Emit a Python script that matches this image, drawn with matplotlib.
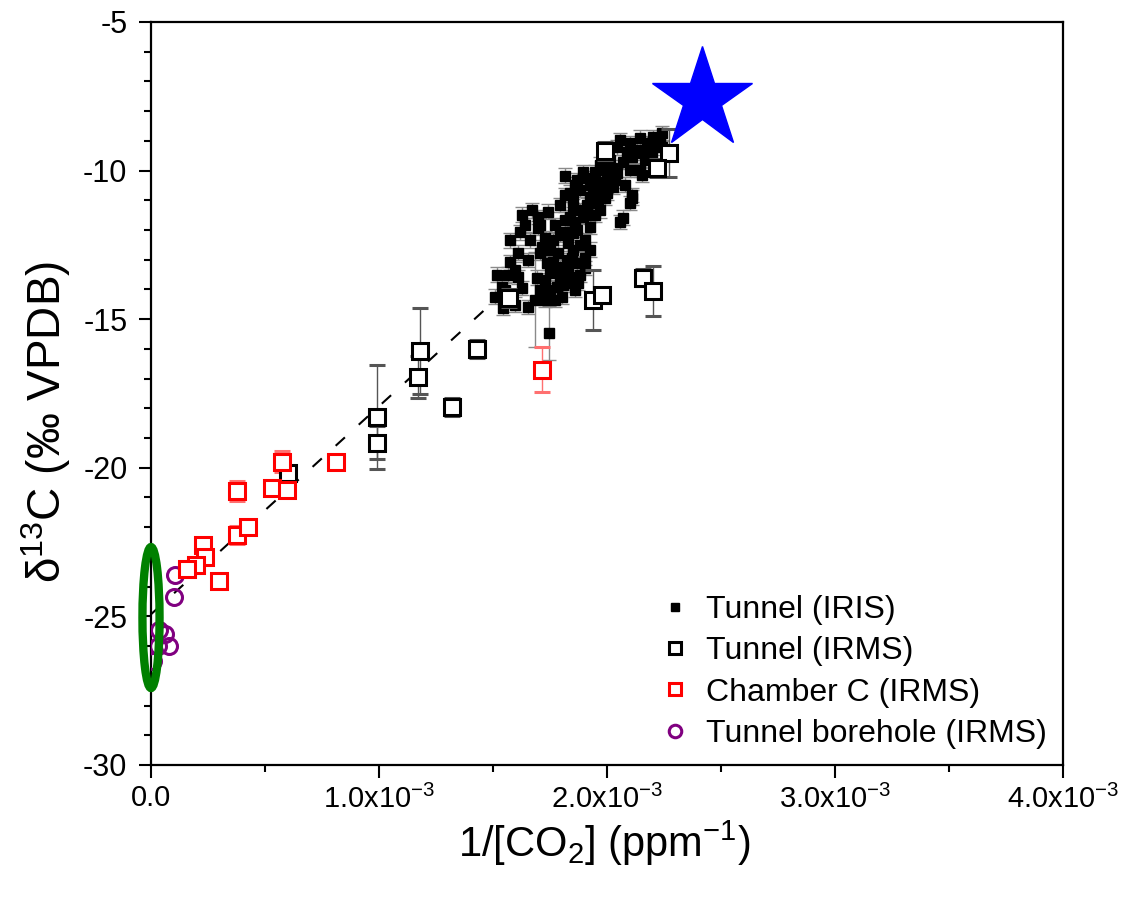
import numpy as np
import matplotlib
matplotlib.use('Agg')
import matplotlib.pyplot as plt
from matplotlib.patches import Ellipse
from matplotlib.lines import Line2D

plt.rcParams['font.family'] = ['Liberation Sans', 'DejaVu Sans']
plt.rcParams['mathtext.default'] = 'regular'
plt.rcParams['axes.unicode_minus'] = False

# Tunnel (IRIS) - x in units of 1e-3 ppm^-1
iris_x = np.array([2.202, 2.232, 2.175, 2.132, 2.088, 2.110, 2.158, 2.197, 2.070, 2.145,
                   2.154, 2.101, 2.044, 2.000, 1.956, 1.912, 1.868, 1.860, 1.939, 1.982,
                   2.026, 1.838, 1.925, 2.110, 2.044, 2.013, 1.969, 1.895, 1.816, 2.101,
                   2.110, 2.070, 2.057, 2.000, 1.851, 1.939, 1.895, 1.868, 1.925, 1.851,
                   1.868, 1.846, 1.904, 1.882, 1.947, 1.816, 1.794, 1.829, 1.807, 1.860,
                   1.912, 1.961, 1.671, 1.697, 1.618, 1.697, 1.610, 1.715, 1.706, 1.785,
                   1.518, 1.566, 1.610, 1.539, 1.627, 1.509, 1.544, 1.596, 1.654, 1.684,
                   1.728, 1.737, 1.750, 1.693, 1.794, 1.781, 1.807, 1.838, 1.851, 1.829,
                   1.825, 1.838, 1.803, 1.851, 1.746, 1.662, 1.654, 1.728, 1.763, 1.772,
                   1.750, 1.575, 1.904, 1.882, 1.925, 1.794, 1.741, 1.969, 1.991, 2.035,
                   2.079, 2.211, 2.241, 2.167, 2.022, 1.816, 1.882, 1.925, 1.860, 1.816,
                   1.882, 1.846, 1.904, 1.794, 1.873, 1.763, 1.750, 1.728, 1.706, 2.057,
                   2.101, 2.145, 2.189, 2.241, 1.991, 1.947, 1.925, 1.969, 1.772, 1.706,
                   1.553, 1.596, 1.640, 1.627, 1.575]) * 1e-3
iris_y = np.array([-8.87, -8.97, -9.07, -9.31, -9.37, -9.54, -9.41, -9.41, -9.71, -9.98,
                   -10.15, -9.98, -10.08, -10.25, -10.38, -10.25, -10.32, -10.48, -10.55, -10.59,
                   -10.55, -10.75, -10.89, -10.82, -9.21, -9.64, -9.81, -10.05, -10.18, -11.09,
                   -10.92, -11.59, -11.73, -10.75, -10.99, -11.09, -11.56, -12.00, -11.90, -12.67,
                   -13.11, -13.58, -12.34, -11.33, -11.49, -11.66, -12.17, -13.34, -13.85, -14.02,
                   -11.16, -10.99, -11.33, -11.56, -12.07, -11.93, -12.77, -12.57, -12.77, -12.77,
                   -13.51, -13.51, -13.58, -13.92, -13.95, -14.25, -14.62, -14.52, -14.59, -14.35,
                   -14.35, -13.11, -13.45, -13.61, -13.24, -13.92, -13.58, -11.56, -12.10, -12.44,
                   -13.01, -13.78, -14.25, -11.22, -15.46, -12.34, -13.01, -13.68, -12.34, -11.83,
                   -14.02, -13.08, -12.94, -13.51, -12.67, -11.16, -11.39, -11.33, -10.92, -10.32,
                   -10.48, -9.14, -8.74, -9.64, -9.91, -10.82, -10.65, -11.49, -11.73, -12.07,
                   -12.50, -12.94, -13.28, -13.61, -13.78, -13.08, -12.67, -12.27, -11.83, -8.97,
                   -9.07, -8.90, -9.21, -9.21, -9.98, -10.05, -10.48, -10.82, -14.35, -14.02,
                   -14.02, -13.34, -11.83, -11.49, -12.34])
iris_err = np.full(len(iris_x), 0.25)
iris_err[69] = 1.6
iris_err[84] = 0.9

# Tunnel (IRMS)
irms_x = np.array([1.99, 2.27, 2.22, 1.94, 1.98, 2.16, 2.20, 1.43, 1.18, 1.17,
                   0.99, 0.99, 1.32, 0.60, 1.57]) * 1e-3
irms_y = np.array([-9.35, -9.40, -9.90, -14.35, -14.20, -13.60, -14.05, -16.00, -16.07, -16.95,
                   -18.30, -19.15, -17.95, -20.17, -14.30])
irms_err = np.array([0.3, 0.8, 0.3, 1.0, 0.25, 0.3, 0.85, 0.3, 1.45, 0.7,
                     1.75, 0.55, 0.3, 0.2, 0.3])

# Chamber C (IRMS)
cham_x = np.array([0.575, 0.377, 0.53, 0.595, 0.377, 0.425, 0.23, 0.237, 0.197, 0.158,
                   0.30, 0.81, 1.715]) * 1e-3
cham_y = np.array([-19.8, -20.78, -20.68, -20.75, -22.26, -22.0, -22.6, -23.0, -23.27, -23.4,
                   -23.8, -19.8, -16.7])
cham_err = np.array([0.35, 0.33, 0.15, 0.2, 0.3, 0.15, 0.15, 0.15, 0.1, 0.1,
                     0.1, 0.1, 0.75])

# Tunnel borehole (IRMS)
bore_x = np.array([0.105, 0.10, 0.035, 0.03, 0.08, 0.06, 0.01]) * 1e-3
bore_y = np.array([-23.6, -24.35, -25.45, -26.0, -26.0, -25.6, -26.5])

# mixing line fit and end-member markers
fit_intercept = -24.93
fit_slope = 7000.0
fit_x = np.array([0.0, 1.52e-3])
star_x, star_y = 2.417e-3, -7.58
ell_x, ell_y, ell_w, ell_h = 0.0, -25.04, 0.075e-3, 4.74

xticks = [0, 1e-3, 2e-3, 3e-3, 4e-3]
xticklabels = ['0.0', '1.0x10$^{-3}$', '2.0x10$^{-3}$', '3.0x10$^{-3}$', '4.0x10$^{-3}$']
yticks = [-30, -25, -20, -15, -10, -5]

fig = plt.figure(figsize=(11.26, 8.97), dpi=100)
ax = fig.add_axes([0.1341, 0.1472, 0.8099, 0.8283])

ax.plot(fit_x, fit_intercept + fit_slope * fit_x, color='black', lw=1.5,
        dashes=(6, 9), zorder=1)

ax.errorbar(iris_x, iris_y, yerr=iris_err, fmt='s', color='black', ms=7,
            ecolor='#8a8a8a', elinewidth=1, capsize=5, capthick=1, zorder=3)
ax.errorbar(irms_x, irms_y, yerr=irms_err, fmt='s', mfc='white', mec='black', mew=2.2,
            ms=11.5, ecolor='#555555', elinewidth=1, capsize=6, capthick=1, zorder=4)
ax.errorbar(cham_x, cham_y, yerr=cham_err, fmt='s', mfc='white', mec='#ff0000', mew=2.2,
            ms=11.5, ecolor='#ff7070', elinewidth=1, capsize=6, capthick=1, zorder=4)
ax.plot(bore_x, bore_y, 'o', mfc='none', mec='#800080', mew=2.2, ms=11.5, zorder=4)

ax.plot([star_x], [star_y], marker='*', color='#0000ff', ms=76, mec='#0000ff',
        clip_on=False, zorder=6)
ax.add_patch(Ellipse((ell_x, ell_y), ell_w, ell_h, fill=False, edgecolor='#008000',
                     lw=6, clip_on=False, zorder=7))

ax.set_xlim(0, 4e-3)
ax.set_ylim(-30, -5)
ax.set_xticks(xticks)
ax.set_xticklabels(xticklabels)
ax.set_xticks(np.arange(0.5e-3, 4e-3, 1e-3), minor=True)
ax.set_yticks(yticks)
ax.set_yticks(np.arange(-30, -4, 1), minor=True)
ax.tick_params(which='major', direction='out', length=9, width=1.5,
               top=False, right=False)
ax.tick_params(which='minor', direction='out', length=5, width=1.5, top=False, right=False)
ax.tick_params(axis='x', labelsize=21, pad=5)
ax.tick_params(axis='y', labelsize=22, pad=8)
for sp in ax.spines.values():
    sp.set_linewidth(1.6)

ax.set_xlabel('1/[CO$_2$] (ppm$^{-1}$)', fontsize=30)
ax.xaxis.set_label_coords(0.497, -0.072)
ax.set_ylabel('δ$^{13}$C (‰ VPDB)', fontsize=33)
ax.yaxis.set_label_coords(-0.085, 0.462)

handles = [
    Line2D([], [], ls='none', marker='s', color='black', ms=6),
    Line2D([], [], ls='none', marker='s', mfc='white', mec='black', mew=2.2, ms=9),
    Line2D([], [], ls='none', marker='s', mfc='white', mec='#ff0000', mew=2.2, ms=9),
    Line2D([], [], ls='none', marker='o', mfc='white', mec='#800080', mew=2.2, ms=9),
]
labels = ['Tunnel (IRIS)', 'Tunnel (IRMS)', 'Chamber C (IRMS)', 'Tunnel borehole (IRMS)']
ax.legend(handles, labels, loc='lower left', bbox_to_anchor=(0.526, -0.017), frameon=False,
          fontsize=23, handlelength=1.0, handletextpad=0.45, labelspacing=0.35)

fig.savefig('out.png', dpi=100)
